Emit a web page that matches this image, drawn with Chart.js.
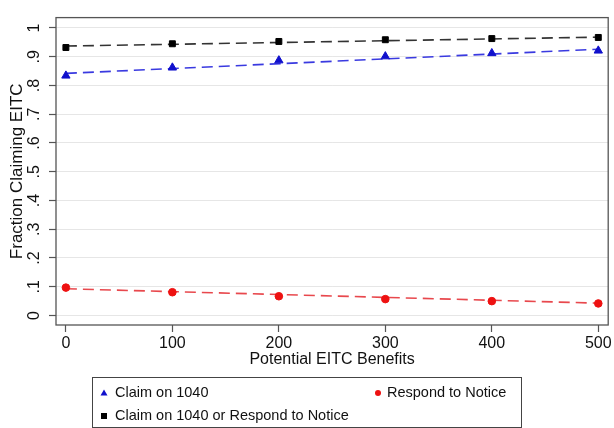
<!DOCTYPE html>
<html><head><meta charset="utf-8">
<script src="https://cdn.jsdelivr.net/npm/chart.js@4"></script>
<style>html,body{margin:0;padding:0;background:#fff;}#wrap{width:614px;height:428px;}</style>
</head><body><div id="wrap"><canvas id="c" width="614" height="428"></canvas></div>
<script>
const benefits = [0, 100, 200, 300, 400, 500];
const claim1040 = [0.834, 0.862, 0.887, 0.901, 0.912, 0.921];
const respondNotice = [0.097, 0.081, 0.067, 0.057, 0.050, 0.042];
const claimOrRespond = [0.932, 0.945, 0.953, 0.959, 0.963, 0.967];
const fitX = [0, 500];
const fitClaim1040 = [0.842, 0.926];
const fitRespond = [0.093, 0.043];
const fitClaimOrRespond = [0.937, 0.968];
const yTickValues = [0, 0.1, 0.2, 0.3, 0.4, 0.5, 0.6, 0.7, 0.8, 0.9, 1];
const yTickLabels = ["0", ".1", ".2", ".3", ".4", ".5", ".6", ".7", ".8", ".9", "1"];
const xTickValues = [0, 100, 200, 300, 400, 500];
const labels = ["Claim on 1040", "Respond to Notice", "Claim on 1040 or Respond to Notice"];

const pts = (xs, ys) => xs.map((x, i) => ({x: x, y: ys[i]}));
const FONT = "'Liberation Sans', Arial, sans-serif";

const frameAndLegend = {
  id: 'frameAndLegend',
  afterDatasetsDraw(chart) {
    const {ctx, chartArea: a} = chart;
    ctx.save();
    ctx.strokeStyle = '#555';
    ctx.lineWidth = 1.3;
    ctx.strokeRect(a.left, a.top, a.right - a.left, a.bottom - a.top);
    ctx.restore();
  },
  afterDraw(chart) {
    const ctx = chart.ctx;
    ctx.save();
    ctx.strokeStyle = '#444';
    ctx.lineWidth = 1;
    ctx.strokeRect(92.5, 377.5, 429, 50);
    ctx.font = "14.5px " + FONT;
    ctx.textBaseline = 'middle';
    const items = [
      {ds: 0, mx: 104, tx: 115, y: 393},
      {ds: 1, mx: 378, tx: 387, y: 393},
      {ds: 2, mx: 104, tx: 115, y: 416}
    ];
    items.forEach(it => {
      const d = chart.data.datasets[it.ds];
      ctx.fillStyle = d.pointBackgroundColor;
      const s = d.pointStyle;
      ctx.beginPath();
      if (s === 'triangle') {
        ctx.moveTo(it.mx, it.y - 3.5); ctx.lineTo(it.mx + 3.5, it.y + 2.5); ctx.lineTo(it.mx - 3.5, it.y + 2.5); ctx.closePath(); ctx.fill();
      } else if (s === 'rect') {
        ctx.fillRect(it.mx - 3, it.y - 3, 6, 6);
      } else {
        ctx.arc(it.mx, it.y, 3, 0, Math.PI * 2); ctx.fill();
      }
      ctx.fillStyle = '#111';
      ctx.fillText(d.label, it.tx, it.y);
    });
    ctx.restore();
  }
};

new Chart(document.getElementById('c'), {
  type: 'scatter',
  data: {
    datasets: [
      {label: labels[0], data: pts(benefits, claim1040), showLine: false, pointStyle: 'triangle', pointRadius: 4.8, pointBackgroundColor: '#1010cc', pointBorderColor: '#1010cc', order: 1},
      {label: labels[1], data: pts(benefits, respondNotice), showLine: false, pointStyle: 'circle', pointRadius: 3.8, pointBackgroundColor: '#ee1111', pointBorderColor: '#ee1111', order: 1},
      {label: labels[2], data: pts(benefits, claimOrRespond), showLine: false, pointStyle: 'rect', pointRadius: 4.2, pointBackgroundColor: '#000', pointBorderColor: '#000', order: 1},
      {label: 'fit1', data: pts(fitX, fitClaim1040), showLine: true, pointRadius: 0, borderColor: '#3a3ae0', borderWidth: 1.6, borderDash: [11, 6], order: 2},
      {label: 'fit2', data: pts(fitX, fitRespond), showLine: true, pointRadius: 0, borderColor: '#e8484d', borderWidth: 1.6, borderDash: [11, 6], order: 2},
      {label: 'fit3', data: pts(fitX, fitClaimOrRespond), showLine: true, pointRadius: 0, borderColor: '#333', borderWidth: 1.6, borderDash: [11, 6], order: 2}
    ]
  },
  options: {
    responsive: false,
    animation: false,
    layout: {padding: {left: 0, right: 3, top: 5, bottom: 51}},
    plugins: {legend: {display: false}, tooltip: {enabled: false}},
    scales: {
      x: {
        type: 'linear', min: -9.3, max: 509.3,
        afterBuildTicks: s => { s.ticks = xTickValues.map(v => ({value: v})); },
        afterFit: s => { s.height = 52; },
        grid: {drawOnChartArea: false, drawTicks: true, tickLength: 7, tickColor: '#555', tickWidth: 1.2},
        border: {display: false},
        ticks: {color: '#111', font: {family: FONT, size: 16}, padding: 2, maxRotation: 0, minRotation: 0},
        title: {display: true, text: 'Potential EITC Benefits', color: '#111', font: {family: FONT, size: 16}, padding: {top: 0, bottom: 8}}
      },
      y: {
        type: 'linear', min: -0.033, max: 1.036,
        afterBuildTicks: s => { s.ticks = yTickValues.map(v => ({value: v})); },
        afterFit: s => { s.width = 56; },
        grid: {drawOnChartArea: true, drawTicks: true, tickLength: 7, color: '#e6e6e6', tickColor: '#555', lineWidth: 1, tickWidth: 1.2},
        border: {display: false},
        ticks: {color: '#111', font: {family: FONT, size: 16}, padding: 8, minRotation: 90, maxRotation: 90, crossAlign: 'center',
          callback: (v) => { const i = yTickValues.findIndex(t => Math.abs(t - v) < 1e-9); return i >= 0 ? yTickLabels[i] : ''; }},
        title: {display: true, text: 'Fraction Claiming EITC', color: '#111', font: {family: FONT, size: 17}, padding: {top: 7, bottom: 0}}
      }
    }
  },
  plugins: [frameAndLegend]
});
</script>
</body></html>
